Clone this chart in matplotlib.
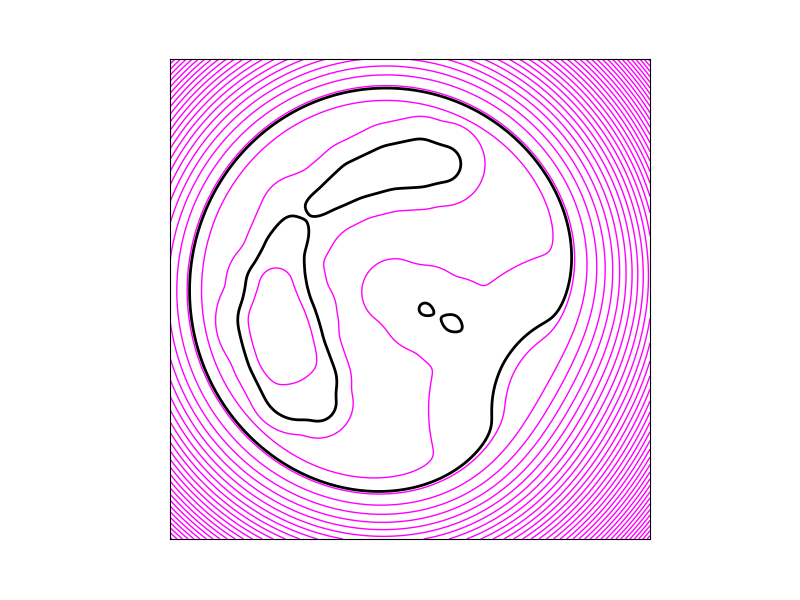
import numpy as np
import matplotlib
matplotlib.use("Agg")
import matplotlib.pyplot as plt

# rejilla del dominio
n = 601
u = np.linspace(-1, 1, n)
v = np.linspace(-1, 1, n)
U, V = np.meshgrid(u, v)

# cuenco exterior (anillos magenta)
piso = -1.5
cuenco_cx, cuenco_cy = -0.10, 0.035
cuenco_sx = 0.97
cuenco_r0 = 0.723
cuenco_k = 52.5
cuenco_q = 1.75

# bulto sumado al cuenco abajo a la derecha
bulto_u, bulto_v = 0.75, -0.4625
bulto_a = 2.28
bulto_s = 0.546

# cresta en S (lobulo izquierdo + lobulo superior): u, v, altura, ancho, exponente
s_u = [-0.3833, -0.4625, -0.5167, -0.5542, -0.5583, -0.525, -0.4542,
       -0.3542, -0.2292, -0.0833, 0.0417, 0.1375]
s_v = [-0.4333, -0.3458, -0.2208, -0.0875, 0.0583, 0.2042, 0.3458,
       0.4125, 0.4958, 0.55, 0.5667, 0.5625]
s_h = [-0.12, -0.01, 0.05, 0.10, 0.03, -0.08, -0.21,
       -0.17, -0.12, -0.10, -0.08, -0.14]
s_w = [0.146, 0.216, 0.225, 0.246, 0.204, 0.1625, 0.175,
       0.15, 0.167, 0.183, 0.192, 0.175]
s_p = [5, 7, 6, 4, 4, 4, 4, 4, 4, 4, 4, 4]

# lengua central con las dos islas
l_u = [0.375, 0.275, 0.175, 0.1167, 0.0625, -0.0625]
l_v = [-0.2625, -0.1708, -0.10, -0.0708, -0.0417, 0.0292]
l_h = [-0.35, -0.27, -0.14, -0.21, -0.155, -0.50]
l_w = [0.208, 0.20, 0.192, 0.183, 0.183, 0.167]
l_p = [2, 2, 2, 2, 2, 2]

# niveles
niveles_m = np.arange(-1, 40)
nivel_k = [-0.2]


def cresta(pu, pv, ph, pw, pp):
    capas = []
    for i in range(len(pu) - 1):
        dx = pu[i + 1] - pu[i]
        dy = pv[i + 1] - pv[i]
        s = ((U - pu[i]) * dx + (V - pv[i]) * dy) / (dx * dx + dy * dy)
        s = np.clip(s, 0, 1)
        d = np.hypot(U - pu[i] - s * dx, V - pv[i] - s * dy)
        h = ph[i] + s * (ph[i + 1] - ph[i])
        w = pw[i] + s * (pw[i + 1] - pw[i])
        p = pp[i] + s * (pp[i + 1] - pp[i])
        capas.append(piso + (h - piso) * np.exp(-(d / w) ** p))
    return np.max(capas, axis=0)


def suavizar(A, s):
    k = np.arange(-3 * s, 3 * s + 1)
    g = np.exp(-0.5 * (k / s) ** 2)
    g = g / g.sum()
    Ap = np.pad(A, 3 * s, mode='edge')
    Ap = np.apply_along_axis(lambda m: np.convolve(m, g, mode='valid'), 0, Ap)
    Ap = np.apply_along_axis(lambda m: np.convolve(m, g, mode='valid'), 1, Ap)
    return Ap


def max_suave(a, b, tau):
    return tau * np.logaddexp(a / tau, b / tau)


r = np.hypot((U - cuenco_cx) / cuenco_sx, V - cuenco_cy)
ws = 0.02
sp = ws * np.logaddexp(0, (r - cuenco_r0) / ws)
cuenco = piso + cuenco_k * sp ** cuenco_q
rb2 = (U - bulto_u) ** 2 + (V - bulto_v) ** 2
cuenco = cuenco + bulto_a * np.exp(-rb2 / bulto_s ** 2)

lengua = suavizar(cresta(l_u, l_v, l_h, l_w, l_p), 5)
ese = suavizar(cresta(s_u, s_v, s_h, s_w, s_p), 5)
Z = max_suave(max_suave(cuenco, lengua, 0.05), ese, 0.015)

fig = plt.figure(figsize=(8, 6), dpi=100)
ax = fig.add_axes([0.2125, 0.1017, 0.6, 0.8])
ax.contour(U, V, Z, levels=niveles_m, colors='magenta',
           linewidths=1.0, linestyles='solid')
ax.contour(U, V, Z, levels=nivel_k, colors='black',
           linewidths=2.0, linestyles='solid')
ax.set_xlim(-1, 1)
ax.set_ylim(-1, 1)
ax.set_xticks([])
ax.set_yticks([])
fig.savefig('out.png')
